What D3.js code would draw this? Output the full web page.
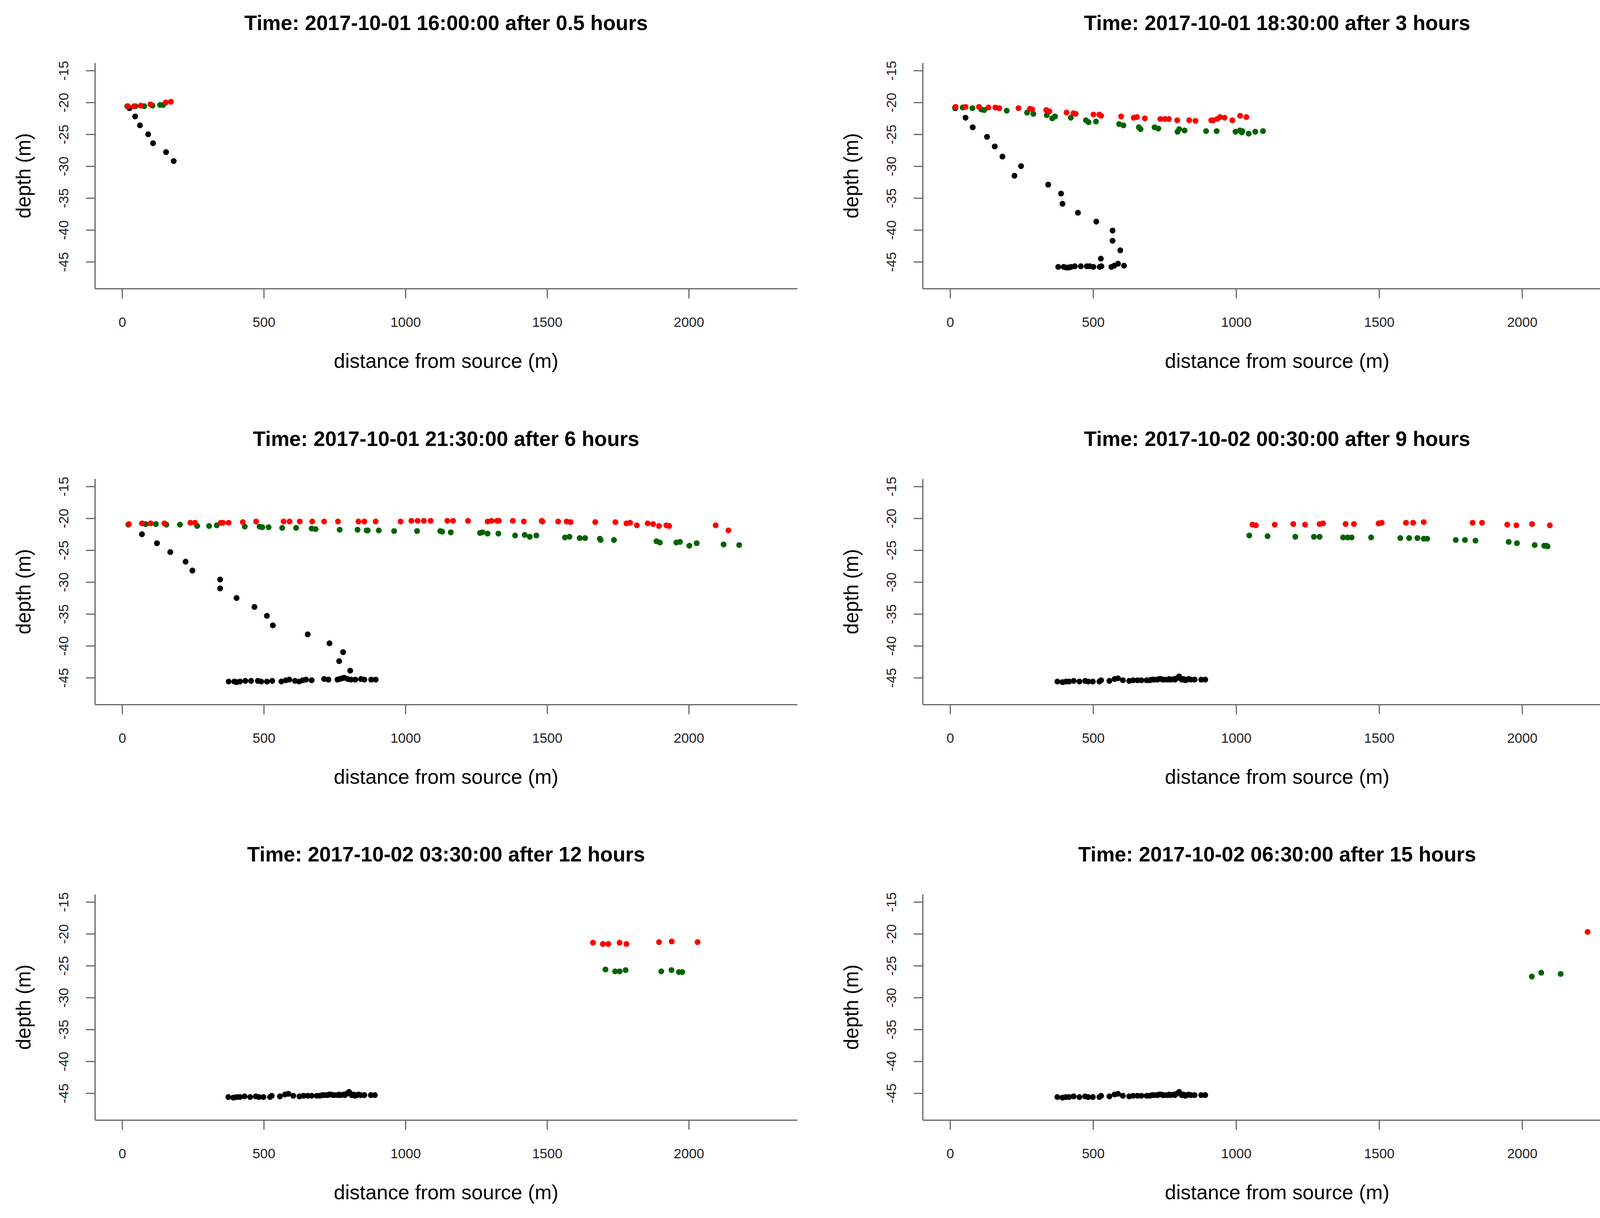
<!DOCTYPE html>
<html>
<head>
<meta charset="utf-8">
<script src="https://cdnjs.cloudflare.com/ajax/libs/d3/7.8.5/d3.min.js"></script>
<style>
  body { margin: 0; background: #fff; overflow: hidden; }
  svg { display: block; }
  text { font-family: "Liberation Sans", Arial, sans-serif; }
</style>
</head>
<body>
<script>
//Panel titles and axis ticks
var titles = [
    "Time: 2017-10-01 16:00:00 after 0.5 hours",
    "Time: 2017-10-01 18:30:00 after 3 hours",
    "Time: 2017-10-01 21:30:00 after 6 hours",
    "Time: 2017-10-02 00:30:00 after 9 hours",
    "Time: 2017-10-02 03:30:00 after 12 hours",
    "Time: 2017-10-02 06:30:00 after 15 hours"
];
var xTicks = [0, 500, 1000, 1500, 2000];
var yTicks = [-15, -20, -25, -30, -35, -40, -45];

//Particle positions [distance, depth]
var p1Red = [[21,-20.6],[42,-20.6],[66,-20.5],[100,-20.3],[154,-20.0],[172,-19.9]];
var p1Green = [[18,-20.6],[47,-20.6],[78,-20.6],[107,-20.5],[134,-20.4],[145,-20.4]];
var p1Black = [[26,-20.9],[46,-22.2],[63,-23.6],[92,-25.0],[109,-26.4],[155,-27.8],[182,-29.2]];

var p2Red = [[19,-20.7],[54,-20.7],[101,-20.7],[134,-20.8],[158,-20.8],[172,-20.9],[239,-20.9],[279,-21.0],
    [287,-21.1],[336,-21.2],[347,-21.4],[407,-21.6],[431,-21.7],[439,-21.8],[501,-21.9],[522,-21.9],[528,-22.1],
    [598,-22.2],[642,-22.4],[653,-22.3],[681,-22.5],[735,-22.6],[751,-22.6],[765,-22.6],[794,-22.8],[836,-22.8],
    [858,-22.9],[913,-22.8],[920,-22.8],[934,-22.6],[944,-22.3],[960,-22.4],[987,-22.8],[1014,-22.1],[1036,-22.3]];
var p2Green = [[17,-20.8],[44,-20.8],[78,-20.9],[109,-21.1],[119,-21.2],[198,-21.3],[269,-21.6],[291,-21.8],
    [338,-22.0],[357,-22.5],[367,-22.2],[422,-22.4],[475,-22.8],[484,-23.1],[510,-23.0],[591,-23.4],[606,-23.6],
    [660,-23.9],[666,-24.2],[715,-23.9],[728,-24.1],[795,-24.6],[801,-24.2],[820,-24.4],[895,-24.5],[932,-24.5],
    [998,-24.6],[1013,-24.4],[1020,-24.7],[1022,-24.5],[1044,-24.9],[1067,-24.6],[1094,-24.5]];
var p2Black = [[18,-20.9],[54,-22.4],[79,-23.9],[129,-25.4],[156,-26.9],[183,-28.5],[248,-30.0],[225,-31.5],
    [343,-32.9],[388,-34.3],[393,-35.9],[447,-37.3],[511,-38.7],[568,-40.1],[568,-41.7],[595,-43.2],[527,-44.5],
    [378,-45.8],[397,-45.8],[406,-45.9],[415,-45.9],[423,-45.8],[436,-45.7],[457,-45.7],[478,-45.7],[488,-45.7],
    [501,-45.8],[523,-45.8],[529,-45.7],[564,-45.8],[574,-45.6],[587,-45.3],[608,-45.6]];

var p3Red = [[24,-20.9],[70,-20.8],[101,-20.8],[149,-20.8],[241,-20.7],[257,-20.7],[348,-20.7],[356,-20.7],
    [376,-20.7],[426,-20.6],[473,-20.5],[570,-20.5],[591,-20.5],[627,-20.5],[671,-20.5],[713,-20.5],[762,-20.5],
    [834,-20.5],[855,-20.5],[895,-20.5],[983,-20.5],[1021,-20.4],[1043,-20.4],[1065,-20.4],[1089,-20.4],
    [1148,-20.4],[1168,-20.4],[1221,-20.4],[1290,-20.5],[1304,-20.4],[1323,-20.4],[1330,-20.4],[1379,-20.4],
    [1418,-20.5],[1481,-20.4],[1484,-20.5],[1539,-20.5],[1569,-20.5],[1583,-20.6],[1670,-20.6],[1741,-20.6],
    [1780,-20.8],[1793,-20.7],[1817,-21.1],[1855,-20.8],[1874,-20.9],[1895,-21.2],[1921,-21.1],[1931,-21.2],
    [2095,-21.1],[2140,-21.9]];
var p3Green = [[22,-21.0],[83,-20.9],[119,-20.9],[156,-21.0],[204,-21.0],[265,-21.2],[307,-21.2],[334,-21.1],
    [433,-21.3],[485,-21.3],[495,-21.4],[517,-21.4],[565,-21.5],[614,-21.5],[669,-21.6],[683,-21.7],[768,-21.8],
    [831,-21.8],[863,-21.9],[867,-21.9],[906,-21.9],[960,-22.0],[1041,-22.0],[1123,-22.0],[1130,-22.1],
    [1160,-22.2],[1263,-22.3],[1272,-22.2],[1290,-22.4],[1328,-22.4],[1387,-22.7],[1421,-22.6],[1439,-22.9],
    [1462,-22.7],[1563,-23.0],[1579,-22.9],[1615,-23.1],[1634,-23.1],[1686,-23.2],[1689,-23.4],[1736,-23.4],
    [1886,-23.6],[1898,-23.8],[1956,-23.8],[1969,-23.7],[2002,-24.3],[2028,-23.9],[2123,-24.1],[2178,-24.2]];
var p3Black = [[70,-22.5],[123,-23.9],[170,-25.3],[224,-26.8],[248,-28.2],[346,-29.6],[346,-31.0],[404,-32.5],
    [467,-33.9],[511,-35.3],[532,-36.8],[655,-38.2],[732,-39.6],[780,-41.0],[766,-42.4],[805,-43.9],
    [376,-45.6],[396,-45.6],[404,-45.7],[416,-45.6],[435,-45.5],[455,-45.5],[479,-45.5],[491,-45.6],[511,-45.6],
    [530,-45.5],[562,-45.6],[578,-45.4],[590,-45.3],[610,-45.5],[625,-45.6],[637,-45.4],[649,-45.3],[669,-45.4],
    [713,-45.2],[728,-45.3],[760,-45.3],[768,-45.2],[776,-45.1],[784,-45.0],[796,-45.2],[808,-45.3],[823,-45.3],
    [843,-45.2],[855,-45.3],[879,-45.3],[895,-45.3]];

var p4Red = [[1057,-21.0],[1069,-21.1],[1135,-21.0],[1200,-20.9],[1241,-21.0],[1292,-20.9],[1304,-20.8],
    [1383,-20.9],[1412,-20.9],[1498,-20.8],[1509,-20.7],[1594,-20.7],[1619,-20.7],[1656,-20.6],[1827,-20.7],
    [1860,-20.7],[1948,-21.0],[1980,-21.1],[2035,-20.9],[2097,-21.1]];
var p4Green = [[1046,-22.7],[1110,-22.8],[1207,-22.9],[1272,-22.9],[1292,-22.9],[1374,-23.0],[1390,-23.0],
    [1404,-23.0],[1472,-23.0],[1574,-23.1],[1605,-23.1],[1634,-23.1],[1656,-23.2],[1668,-23.2],[1768,-23.4],
    [1800,-23.4],[1837,-23.5],[1953,-23.7],[1982,-23.9],[2044,-24.2],[2077,-24.3],[2085,-24.3],[2089,-24.4]];

//particles resting on the bottom, same in the last three panels
var settled = [[375,-45.6],[393,-45.7],[405,-45.6],[416,-45.6],[432,-45.5],[452,-45.6],[472,-45.5],[483,-45.6],
    [499,-45.6],[522,-45.6],[528,-45.4],[557,-45.5],[575,-45.2],[587,-45.1],[604,-45.4],[626,-45.5],[640,-45.4],
    [655,-45.4],[669,-45.4],[687,-45.4],[698,-45.4],[706,-45.3],[714,-45.3],[725,-45.3],[730,-45.2],[737,-45.2],
    [744,-45.3],[749,-45.3],[761,-45.3],[766,-45.2],[772,-45.3],[782,-45.2],[786,-45.3],[792,-45.1],[801,-44.8],
    [810,-45.3],[816,-45.2],[822,-45.4],[828,-45.3],[834,-45.2],[842,-45.3],[855,-45.3],[878,-45.3],[892,-45.3]];

var p5Red = [[1662,-21.4],[1697,-21.6],[1716,-21.6],[1756,-21.4],[1780,-21.6],[1895,-21.3],[1940,-21.2],[2031,-21.3]];
var p5Green = [[1706,-25.6],[1740,-25.9],[1756,-25.9],[1777,-25.7],[1903,-25.9],[1939,-25.7],[1965,-26.0],[1977,-26.0]];

var p6Red = [[2229,-19.7]];
var p6Green = [[2034,-26.7],[2067,-26.1],[2135,-26.3]];

//Chart set up
var svgWidth = 4205;
var svgHeight = 3119;
var colLeft = [243, 2362];
var colWidth = [1798, 1815];
var rowTop = [161, 1226, 2290];
var plotHeight = 578;

var svg = d3.select("body")
    .append("svg")
    .attr("width", svgWidth)
    .attr("height", svgHeight)
    .style("background", "#fff");

var panels = [
    {red: p1Red, green: p1Green, black: p1Black},
    {red: p2Red, green: p2Green, black: p2Black},
    {red: p3Red, green: p3Green, black: p3Black},
    {red: p4Red, green: p4Green, black: settled},
    {red: p5Red, green: p5Green, black: settled},
    {red: p6Red, green: p6Green, black: settled}
];

//plain labels like R: no thousands comma, ascii minus
var plainFormat = d => String(d);

panels.forEach(function(p, i) {
    var col = i % 2;
    var row = Math.floor(i / 2);
    var width = colWidth[col];
    var height = plotHeight;

    var chartGroup = svg.append("g")
        .attr("transform", `translate(${colLeft[col]}, ${rowTop[row]})`);

    //scales (R style 4% padding around the limits)
    var xScale = d3.scaleLinear()
        .domain([-96, 2383])
        .range([0, width]);
    var yScale = d3.scaleLinear()
        .domain([-49.2, -13.8])
        .range([height, 0]);

    var bottomAxis = d3.axisBottom(xScale)
        .tickValues(xTicks)
        .tickFormat(plainFormat)
        .tickSize(25)
        .tickSizeOuter(0)
        .tickPadding(48);
    var leftAxis = d3.axisLeft(yScale)
        .tickValues(yTicks)
        .tickFormat(plainFormat)
        .tickSize(23)
        .tickSizeOuter(0);

    var xg = chartGroup.append("g")
        .attr("transform", `translate(0, ${height})`)
        .call(bottomAxis);
    xg.selectAll("text")
        .attr("font-size", 35)
        .attr("fill", "#222");

    var yg = chartGroup.append("g")
        .call(leftAxis);
    yg.selectAll("text")
        .attr("x", null)
        .attr("dy", "0.35em")
        .attr("transform", "translate(-80,0) rotate(-90)")
        .attr("text-anchor", "middle")
        .attr("font-size", 35)
        .attr("fill", "#222");

    chartGroup.selectAll(".domain, .tick line")
        .attr("stroke", "#666")
        .attr("stroke-width", 3);

    //title and axes labels
    chartGroup.append("text")
        .attr("x", width / 2)
        .attr("y", -84)
        .attr("text-anchor", "middle")
        .attr("font-size", 53)
        .attr("font-weight", "bold")
        .text(titles[i]);

    chartGroup.append("text")
        .attr("x", width / 2)
        .attr("y", height + 203)
        .attr("text-anchor", "middle")
        .attr("font-size", 52)
        .text("distance from source (m)");

    chartGroup.append("text")
        .attr("transform", `translate(-183, ${height / 2}) rotate(-90)`)
        .attr("dy", "0.35em")
        .attr("text-anchor", "middle")
        .attr("font-size", 51)
        .text("depth (m)");

    //dots for each group
    var groups = [["black", p.black], ["#006400", p.green], ["#ff0000", p.red]];
    groups.forEach(function(g) {
        chartGroup.append("g")
            .selectAll("circle")
            .data(g[1])
            .enter()
            .append("circle")
            .attr("cx", d => xScale(d[0]))
            .attr("cy", d => yScale(d[1]))
            .attr("r", 7.5)
            .attr("fill", g[0]);
    });
});
</script>
</body>
</html>
